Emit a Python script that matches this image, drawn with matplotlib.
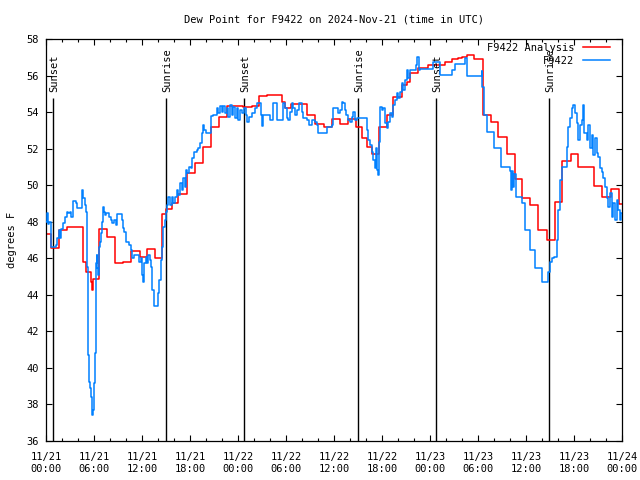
import matplotlib
matplotlib.use("Agg")
import matplotlib.pyplot as plt

# hours since 2024-11-21 00:00 UTC
analysis_hours = [0.0, 0.67, 1.63, 2.58, 4.67, 5.0, 5.58, 5.71, 5.92, 6.63, 7.67, 8.67, 9.67,
                  10.67, 11.71, 12.67, 13.63, 14.54, 15.0, 15.71, 16.54, 17.58, 18.63, 19.58,
                  20.58, 21.67, 22.58, 24.67, 25.71, 26.63, 27.67, 29.46, 29.9, 30.6, 32.6,
                  33.6, 34.75, 35.7, 36.75, 37.8, 38.8, 39.5, 40.1, 40.7, 41.6, 42.6, 43.4,
                  44.5, 45.1, 45.5, 46.5, 47.7, 49.9, 50.7, 51.5, 51.96, 52.6, 53.5, 54.67,
                  55.6, 56.5, 57.6, 58.6, 59.5, 60.5, 61.54, 62.58, 63.63, 64.54, 65.58,
                  66.54, 67.58, 68.54, 69.54, 70.58, 71.63, 72.0]
analysis_vals = [47.32, 46.54, 47.54, 47.69, 45.79, 45.24, 44.7, 44.26, 44.84, 47.58, 47.14,
                 45.72, 45.77, 46.41, 46.05, 46.49, 45.99, 48.4, 48.7, 49.0, 49.5, 50.68, 51.2,
                 52.07, 53.17, 53.75, 54.33, 54.26, 54.33, 54.88, 54.95, 54.57, 54.2, 54.44,
                 53.84, 53.33, 53.2, 53.6, 53.33, 53.6, 53.2, 52.56, 52.1, 51.7, 53.16, 53.84,
                 54.84, 55.48, 55.66, 56.12, 56.4, 56.6, 56.76, 56.89, 56.98, 57.03, 57.12,
                 56.89, 53.84, 53.44, 52.65, 51.69, 50.34, 49.28, 48.92, 47.55, 47.0, 49.06,
                 51.34, 51.69, 50.98, 51.01, 49.97, 49.37, 49.77, 48.95, 48.95]

obs_hours = [0.0, 0.08, 0.2, 0.33, 0.58, 0.67, 1.21, 1.42, 1.63, 1.75, 1.92, 2.08, 2.33, 2.58,
             2.75, 3.0, 3.17, 3.33, 3.42, 3.71, 3.92, 4.46, 4.54, 4.67, 4.83, 4.96, 5.08, 5.17,
             5.25, 5.38, 5.5, 5.67, 5.75, 5.88, 6.0, 6.13, 6.25, 6.33, 6.42, 6.54, 6.63, 6.75,
             6.83, 7.0, 7.08, 7.17, 7.25, 7.38, 7.5, 7.88, 8.08, 8.29, 8.5, 8.71, 8.92, 9.54,
             9.67, 9.75, 9.96, 10.38, 10.58, 10.71, 11.0, 11.63, 11.83, 11.96, 12.08, 12.25,
             12.46, 12.67, 12.79, 13.0, 13.17, 13.29, 13.5, 14.0, 14.17, 14.33, 14.5, 14.67,
             14.83, 14.96, 15.08, 15.29, 15.5, 15.71, 15.92, 16.13, 16.33, 16.54, 16.75, 16.96,
             17.17, 17.38, 17.5, 17.67, 17.92, 18.08, 18.29, 18.54, 18.83, 19.04, 19.25, 19.46,
             19.67, 19.79, 19.96, 20.63, 20.92, 21.33, 21.54, 21.75, 21.96, 22.17, 22.38, 22.58,
             22.79, 23.0, 23.21, 23.42, 23.63, 23.83, 24.04, 24.25, 24.46, 24.75, 25.0, 25.17,
             25.42, 25.71, 26.13, 26.33, 26.88, 26.96, 27.08, 28.0, 28.33, 28.83, 29.67, 29.88,
             30.08, 30.29, 30.5, 30.71, 30.92, 31.13, 31.33, 31.67, 31.96, 32.17, 32.58, 32.92,
             33.21, 33.63, 33.83, 34.04, 35.08, 35.5, 35.71, 35.83, 36.54, 36.75, 36.96, 37.17,
             37.38, 37.5, 37.79, 38.0, 38.21, 38.42, 38.63, 38.92, 40.08, 40.29, 40.5, 40.71,
             40.92, 41.13, 41.25, 41.33, 41.54, 41.67, 41.75, 41.96, 42.17, 42.38, 42.58, 42.79,
             43.0, 43.21, 43.42, 43.63, 43.83, 44.04, 44.25, 44.46, 44.67, 44.88, 45.08, 45.29,
             45.5, 46.25, 46.42, 46.63, 46.75, 48.42, 49.25, 50.7, 51.13, 52.38, 52.6, 54.46,
             54.55, 54.8, 55.08, 56.04, 56.9, 58.0, 58.1, 58.2, 58.4, 58.5, 58.8, 59.46, 59.9,
             60.5, 61.13, 62.04, 62.8, 63.0, 63.2, 63.54, 63.83, 64.04, 64.25, 64.54, 65.08,
             65.29, 65.5, 65.71, 65.92, 66.13, 66.33, 66.54, 66.75, 66.96, 67.17, 67.29, 67.58,
             67.79, 68.0, 68.21, 68.42, 68.63, 68.83, 69.04, 69.25, 69.46, 69.67, 69.88, 70.08,
             70.29, 70.5, 70.71, 70.92, 71.13, 71.33, 71.54, 71.75, 71.88, 72.0]
obs_vals = [48.0, 48.46, 47.9, 48.0, 47.58, 46.63, 46.72, 47.09, 47.54, 47.09, 47.58, 47.91,
            48.27, 48.55, 48.46, 48.55, 48.27, 48.55, 49.15, 49.0, 48.73, 49.46, 49.73, 49.28,
            48.91, 48.55, 47.91, 45.54, 40.7, 39.24, 38.88, 38.42, 37.42, 37.69, 39.15, 40.79,
            45.72, 46.17, 45.45, 45.08, 46.63, 46.9, 47.36, 48.0, 48.27, 48.78, 48.55, 48.36,
            48.49, 48.27, 48.09, 47.91, 48.09, 47.82, 48.42, 48.09, 47.63, 47.45, 46.9, 46.72,
            46.45, 45.99, 46.17, 45.81, 45.99, 45.08, 44.72, 45.72, 46.08, 45.72, 46.17, 45.9,
            45.54, 44.26, 43.38, 44.08, 44.81, 45.9, 46.63, 47.73, 48.09, 48.55, 48.9, 49.37,
            48.9, 49.37, 49.0, 49.37, 49.74, 49.46, 50.1, 49.74, 50.38, 49.92, 50.83, 50.65,
            50.98, 50.92, 51.47, 51.83, 51.93, 52.02, 52.33, 52.84, 53.3, 53.02, 52.84, 53.79,
            53.84, 54.21, 53.93, 54.33, 54.02, 54.33, 53.93, 54.21, 53.75, 54.39, 53.84, 54.3,
            53.66, 54.21, 53.57, 54.12, 53.93, 54.21, 53.84, 53.48, 53.75, 53.93, 54.21, 54.48,
            53.84, 53.24, 53.84, 53.57, 54.48, 53.57, 54.48, 54.21, 53.66, 53.57, 54.02, 54.48,
            54.21, 53.84, 54.12, 54.48, 54.02, 53.66, 53.57, 53.3, 53.57, 53.48, 53.3, 52.88,
            53.17, 53.2, 53.3, 54.21, 53.93, 54.12, 54.57, 54.48, 54.12, 53.84, 53.57, 53.48,
            53.75, 54.02, 53.57, 53.66, 53.02, 52.47, 52.2, 51.84, 51.38, 50.92, 52.02, 50.83,
            50.56, 52.38, 54.3, 54.12, 54.21, 53.39, 53.11, 53.48, 53.93, 53.75, 54.39, 54.66,
            55.03, 54.75, 55.12, 55.58, 55.21, 55.76, 56.31, 55.85, 56.31, 56.58, 57.04, 56.3,
            56.36, 56.76, 56.03, 56.3, 56.63, 56.94, 55.97, 56.25, 55.39, 53.84, 52.93, 52.01,
            51.0, 50.77, 49.73, 50.77, 49.9, 50.6, 49.37, 49.0, 47.54, 46.45, 45.45, 44.72,
            45.27, 45.81, 46.0, 46.09, 47.0, 48.64, 50.28, 51.0, 52.1, 53.2, 53.66, 54.21, 54.39,
            53.93, 53.39, 52.47, 53.3, 53.57, 54.39, 52.84, 52.47, 53.3, 52.02, 52.75, 51.65,
            52.56, 51.74, 51.56, 50.92, 50.74, 50.37, 49.92, 49.28, 48.82, 49.55, 48.28, 49.0,
            48.1, 49.19, 48.64, 48.1, 48.46, 48.46]

event_hours = [0.875, 15.0, 24.75, 39.0, 48.75, 62.875]
event_labels = ["Sunset", "Sunrise", "Sunset", "Sunrise", "Sunset", "Sunrise"]

tick_hours = list(range(0, 73, 6))
tick_labels = ["11/21\n00:00", "11/21\n06:00", "11/21\n12:00", "11/21\n18:00",
               "11/22\n00:00", "11/22\n06:00", "11/22\n12:00", "11/22\n18:00",
               "11/23\n00:00", "11/23\n06:00", "11/23\n12:00", "11/23\n18:00",
               "11/24\n00:00"]

plt.rcParams["font.family"] = ["DejaVu Sans Mono"]
fs = 7.5

fig = plt.figure(figsize=(6.4, 4.8), dpi=100)
ax = fig.add_axes([46 / 640, 39 / 480, 576 / 640, 402 / 480])

ax.vlines(event_hours, 36, 54.75, color="black", lw=1.0, zorder=1)
for h, lab in zip(event_hours, event_labels):
    ax.text(h + 0.1, 55.1, lab, rotation=90, ha="center", va="bottom", fontsize=fs)

ax.step(analysis_hours, analysis_vals, where="post", color="#ff0000", lw=1.1,
        label="F9422 Analysis", zorder=2)
ax.step(obs_hours, obs_vals, where="post", color="#0080ff", lw=1.1, label="F9422", zorder=3)

ax.set_xlim(0, 72)
ax.set_ylim(36, 58)
ax.set_xticks(tick_hours, labels=tick_labels)
ax.set_xticks(range(0, 73, 2), minor=True)
ax.set_yticks(range(36, 59, 2))
ax.tick_params(which="both", direction="in", top=True, right=True, labelsize=fs, width=0.8)
ax.tick_params(axis="x", which="major", length=4.5, pad=8)
ax.tick_params(axis="x", which="minor", length=2.5)
ax.tick_params(axis="y", length=4.5, pad=5)
for s in ax.spines.values():
    s.set_linewidth(0.9)

ax.set_ylabel("degrees F", fontsize=fs, labelpad=7)
ax.set_title("Dew Point for F9422 on 2024-Nov-21 (time in UTC)", fontsize=fs, pad=12)

ax.legend(loc="upper right", bbox_to_anchor=((610 - 46) / 576, (441 - 43) / 402),
          frameon=False, markerfirst=False, fontsize=fs, handlelength=2.6,
          handletextpad=0.8, labelspacing=0.25, borderpad=0, borderaxespad=0)

fig.savefig("out.png", dpi=100)
